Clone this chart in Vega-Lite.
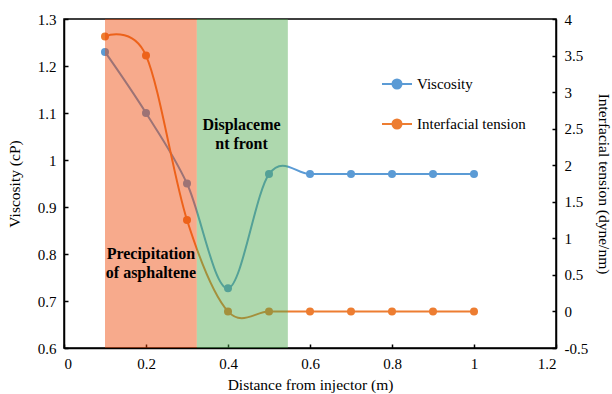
{
  "$schema": "https://vega.github.io/schema/vega-lite/v6.json",
  "width": 492,
  "height": 329,
  "autosize": {"type": "none"},
  "padding": {"left": 64, "top": 19, "right": 56, "bottom": 46},
  "background": "white",
  "config": {
    "view": {"stroke": "black", "strokeWidth": 1.5},
    "font": "Times New Roman, Liberation Serif, serif",
    "text": {"font": "Times New Roman, Liberation Serif, serif"},
    "legend": {"labelFont": "Times New Roman, Liberation Serif, serif"},
    "axis": {
      "labelFont": "Times New Roman, Liberation Serif, serif",
      "titleFont": "Times New Roman, Liberation Serif, serif",
      "labelFontSize": 15,
      "titleFontSize": 15.5,
      "titleFontWeight": "normal",
      "labelColor": "black",
      "titleColor": "black",
      "domainColor": "black",
      "domainWidth": 1.5,
      "tickColor": "black",
      "tickSize": -4,
      "tickWidth": 1.5,
      "grid": false,
      "labelPadding": 12,
      "labelExpr": "datum.value < 0 ? '-' + format(-datum.value, '~g') : format(datum.value, '~g')"
    }
  },
  "datasets": {
    "profile": [
      {"x": 0.1, "viscosity": 1.23, "ift": 3.76},
      {"x": 0.2, "viscosity": 1.10, "ift": 3.5},
      {"x": 0.3, "viscosity": 0.95, "ift": 1.25},
      {"x": 0.4, "viscosity": 0.727, "ift": 0},
      {"x": 0.5, "viscosity": 0.97, "ift": 0},
      {"x": 0.6, "viscosity": 0.97, "ift": 0},
      {"x": 0.7, "viscosity": 0.97, "ift": 0},
      {"x": 0.8, "viscosity": 0.97, "ift": 0},
      {"x": 0.9, "viscosity": 0.97, "ift": 0},
      {"x": 1.0, "viscosity": 0.97, "ift": 0}
    ],
    "zones": [
      {"start": 0.1, "end": 0.324, "zone": "Precipitation"},
      {"start": 0.324, "end": 0.546, "zone": "Front"}
    ],
    "notes": [
      {"x": 0.212, "y": 0.80, "text": "Precipitation\nof asphaltene"},
      {"x": 0.433, "y": 1.074, "text": "Displaceme\nnt front"}
    ]
  },
  "resolve": {"scale": {"y": "independent"}},
  "layer": [
    {
      "data": {"name": "profile"},
      "encoding": {
        "x": {
          "field": "x",
          "type": "quantitative",
          "scale": {"domain": [0, 1.2], "nice": false},
          "axis": {"values": [0, 0.2, 0.4, 0.6, 0.8, 1, 1.2], "title": "Distance from injector (m)", "titlePadding": 6}
        },
        "y": {
          "field": "viscosity",
          "type": "quantitative",
          "scale": {"domain": [0.6, 1.3], "nice": false, "zero": false},
          "axis": {"orient": "left", "values": [0.6, 0.7, 0.8, 0.9, 1, 1.1, 1.2, 1.3], "title": "Viscosity (cP)", "titlePadding": 15}
        },
        "color": {
          "datum": "Viscosity",
          "type": "nominal",
          "scale": {"domain": ["Viscosity", "Interfacial tension"], "range": ["#5B9BD5", "#ED7D31"]},
          "legend": {
            "orient": "none",
            "legendX": 317,
            "legendY": 49,
            "title": null,
            "padding": 0,
            "symbolType": "M-1,0H1M-0.3,0A0.3,0.3 0 1,0 0.3,0A0.3,0.3 0 1,0 -0.3,0",
            "symbolSize": 900,
            "symbolStrokeWidth": 2,
            "labelFont": "Times New Roman, Liberation Serif, serif",
            "labelFontSize": 15,
            "labelColor": "black",
            "rowPadding": 15
          }
        }
      },
      "layer": [
        {"mark": {"type": "line", "interpolate": "cardinal", "strokeWidth": 2}},
        {"mark": {"type": "point", "filled": true, "size": 64, "opacity": 1}}
      ]
    },
    {
      "data": {"name": "profile"},
      "encoding": {
        "x": {"field": "x", "type": "quantitative"},
        "y": {
          "field": "ift",
          "type": "quantitative",
          "scale": {"domain": [-0.5, 4], "nice": false, "zero": false},
          "axis": {"orient": "right", "values": [-0.5, 0, 0.5, 1, 1.5, 2, 2.5, 3, 3.5, 4], "title": "Interfacial tension (dyne/nm)", "titlePadding": 8}
        },
        "color": {"datum": "Interfacial tension", "type": "nominal"}
      },
      "layer": [
        {"mark": {"type": "line", "interpolate": "cardinal", "strokeWidth": 2}},
        {"mark": {"type": "point", "filled": true, "size": 64, "opacity": 1}}
      ]
    },
    {
      "data": {"name": "zones"},
      "mark": {"type": "rect", "opacity": 0.45},
      "encoding": {
        "x": {"field": "start", "type": "quantitative"},
        "x2": {"field": "end"},
        "fill": {
          "field": "zone",
          "type": "nominal",
          "scale": {"domain": ["Precipitation", "Front"], "range": ["#ED4200", "#4BA84B"]},
          "legend": null
        }
      }
    },
    {
      "data": {"name": "notes"},
      "mark": {"type": "text", "font": "Times New Roman, Liberation Serif, serif", "fontWeight": "bold", "fontSize": 16, "lineBreak": "\n", "lineHeight": 19, "color": "black"},
      "encoding": {
        "x": {"field": "x", "type": "quantitative"},
        "y": {"field": "y", "type": "quantitative", "scale": {"domain": [0.6, 1.3], "nice": false, "zero": false}, "axis": null},
        "text": {"field": "text"}
      }
    }
  ]
}
